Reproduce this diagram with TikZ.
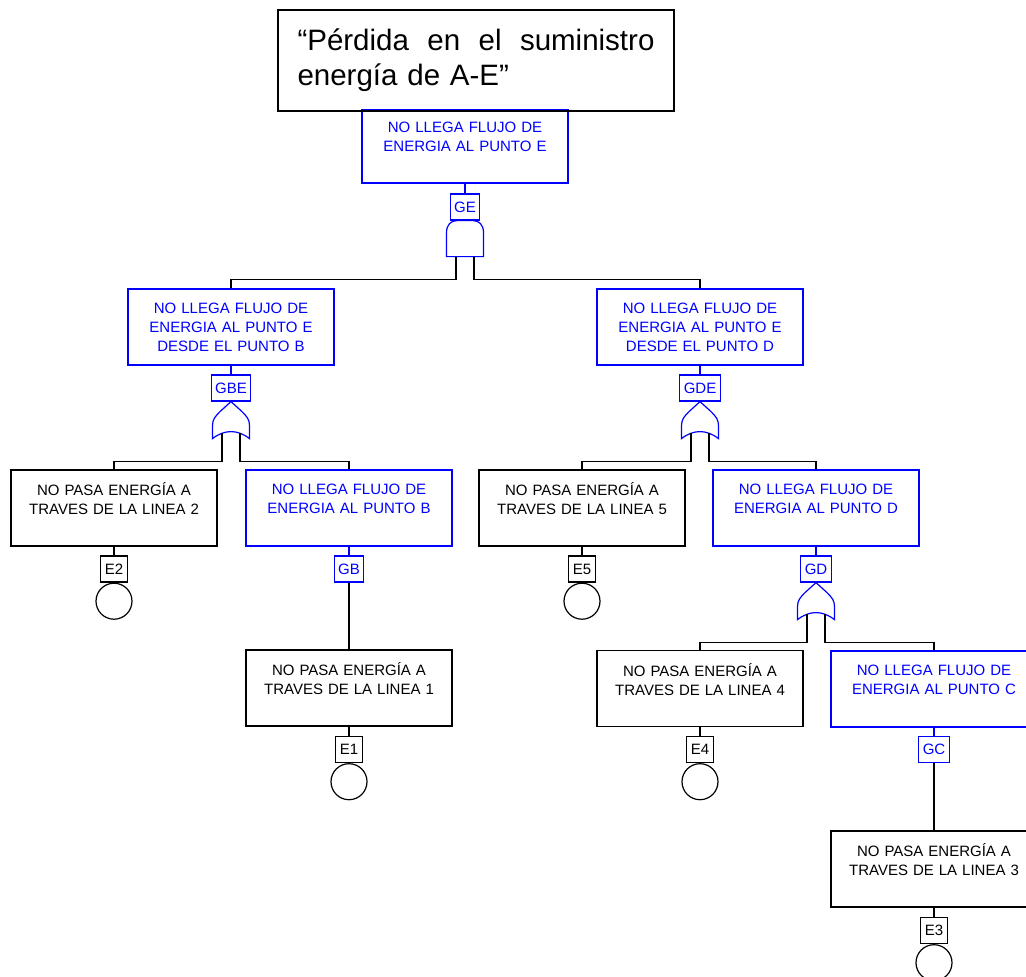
\documentclass[tikz,border=0pt]{standalone}
\usepackage{fontspec}
\setmainfont{Liberation Sans}
\definecolor{ftblue}{RGB}{0,0,255}
\tikzset{
  andgate/.pic={
    \draw[ftblue] (-18.5,36) -- (-18.5,12) .. controls (-18.5,4) and (-14,0) .. (-8,0)
      -- (8,0) .. controls (14,0) and (18.5,4) .. (18.5,12) -- (18.5,36) -- cycle;
    \coordinate (-l) at (-9,36);
    \coordinate (-r) at (9,36);
  },
  orgate/.pic={
    \draw[ftblue] (0,0) -- (11,10) .. controls (16,15) and (18.5,18) .. (18.5,24) -- (18.5,37)
      .. controls (12,32) and (6,30) .. (0,30) .. controls (-6,30) and (-12,32) .. (-18.5,37)
      -- (-18.5,24) .. controls (-18.5,18) and (-16,15) .. (-11,10) -- cycle;
    \coordinate (-l) at (-9,31.5);
    \coordinate (-r) at (9,31.5);
  }
}
\begin{document}
\begin{tikzpicture}[x=1pt,y=-1pt,line width=1.2pt,
    every node/.style={font=\fontsize{15}{19}\selectfont},
    event/.style={draw,minimum width=206pt,minimum height=76pt,inner sep=0pt,text width=204pt,align=center},
    blueevent/.style={event,ftblue},
    tag/.style={draw,minimum width=26pt,minimum height=26pt,inner xsep=4pt,inner ysep=0pt},
    bluetag/.style={tag,ftblue},
    basic/.style={draw,circle,minimum size=36pt,inner sep=0pt,anchor=north}]
  \clip (0,0) rectangle (1026,977);
  \node[blueevent,minimum height=73pt] (eE) at (465,146.5) {NO LLEGA FLUJO DE\\ENERGIA AL PUNTO E\\ \mbox{}};
  \node[draw,minimum width=396pt,minimum height=101pt,inner sep=0pt,text width=357pt,align=left,
    font=\fontsize{29.5}{35}\selectfont] (title) at (476,60.5)
    {\makebox[357pt][s]{“Pérdida\hfill en\hfill el\hfill suministro}\\energía de A-E”};
  \node[bluetag] (gE) at (465,207) {GE};
  \pic (andE) at (gE.south) {andgate};

  \node[blueevent] (eBE) at (231,327) {NO LLEGA FLUJO DE\\ENERGIA AL PUNTO E\\DESDE EL PUNTO B};
  \node[blueevent] (eDE) at (700,327) {NO LLEGA FLUJO DE\\ENERGIA AL PUNTO E\\DESDE EL PUNTO D};
  \node[bluetag] (gBE) at (231,388) {GBE};
  \node[bluetag] (gDE) at (700,388) {GDE};
  \pic (orBE) at (gBE.south) {orgate};
  \pic (orDE) at (gDE.south) {orgate};

  \node[event] (e2) at (114,508) {NO PASA ENERGÍA A\\TRAVES DE LA LINEA 2\\ \mbox{}};
  \node[blueevent] (eB) at (349,508) {NO LLEGA FLUJO DE\\ENERGIA AL PUNTO B\\ \mbox{}};
  \node[event] (e5) at (582,508) {NO PASA ENERGÍA A\\TRAVES DE LA LINEA 5\\ \mbox{}};
  \node[blueevent] (eD) at (816,508) {NO LLEGA FLUJO DE\\ENERGIA AL PUNTO D\\ \mbox{}};
  \node[tag] (t2) at (114,569) {E2};
  \node[bluetag] (gB) at (349,569) {GB};
  \node[tag] (t5) at (582,569) {E5};
  \node[bluetag] (gD) at (816,569) {GD};
  \node[basic] (c2) at (t2.south) {};
  \node[basic] (c5) at (t5.south) {};
  \pic (orD) at (gD.south) {orgate};

  \node[event] (e1) at (349,688) {NO PASA ENERGÍA A\\TRAVES DE LA LINEA 1\\ \mbox{}};
  \node[event] (e4) at (700,688.5) {NO PASA ENERGÍA A\\TRAVES DE LA LINEA 4\\ \mbox{}};
  \node[blueevent] (eC) at (934,689) {NO LLEGA FLUJO DE\\ENERGIA AL PUNTO C\\ \mbox{}};
  \node[tag] (t1) at (349,749.5) {E1};
  \node[tag] (t4) at (700,749.5) {E4};
  \node[bluetag] (gC) at (934,749.5) {GC};
  \node[basic] (c1) at (t1.south) {};
  \node[basic] (c4) at (t4.south) {};

  \node[event] (e3) at (934,869) {NO PASA ENERGÍA A\\TRAVES DE LA LINEA 3\\ \mbox{}};
  \node[tag] (t3) at (934,930.5) {E3};
  \node[basic] (c3) at (t3.south) {};

  \begin{scope}[ftblue]
    \draw (eE) to (gE);
    \draw (eBE) to (gBE);
    \draw (eDE) to (gDE);
    \draw (eB) to (gB);
    \draw (eD) to (gD);
    \draw (eC) to (gC);
  \end{scope}
  \begin{scope}[black]
    \draw (andE-l) -- ++(0,23) -| (eBE.north);
    \draw (andE-r) -- ++(0,23) -| (eDE.north);
    \draw (orBE-l) -- ++(0,28.5) -| (e2.north);
    \draw (orBE-r) -- ++(0,28.5) -| (eB.north);
    \draw (orDE-l) -- ++(0,28.5) -| (e5.north);
    \draw (orDE-r) -- ++(0,28.5) -| (eD.north);
    \draw (orD-l) -- ++(0,28.5) -| (e4.north);
    \draw (orD-r) -- ++(0,28.5) -| (eC.north);
    \draw (gB) to (e1);
    \draw (gC) to (e3);
    \draw (e2) to (t2);
    \draw (e5) to (t5);
    \draw (e1) to (t1);
    \draw (e4) to (t4);
    \draw (e3) to (t3);
  \end{scope}
\end{tikzpicture}
\end{document}
